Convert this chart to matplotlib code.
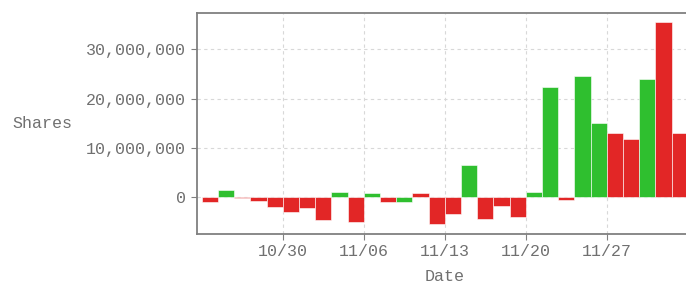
import matplotlib.pyplot as plt
import matplotlib.ticker as mticker
import numpy as np

dates = ["10/23", "10/24", "10/25", "10/26", "10/27",
         "10/30", "10/31", "11/01", "11/02", "11/03",
         "11/06", "11/07", "11/08", "11/09", "11/10",
         "11/13", "11/14", "11/15", "11/16", "11/17",
         "11/20", "11/21", "11/22", "11/23", "11/24",
         "11/27", "11/28", "11/29", "11/30", "12/01"]
shares = [-1.0, 1.4, -0.15, -0.7, -2.0,
          -3.1, -2.3, -4.7, 1.0, -5.1,
          0.9, -1.1, -1.1, 0.9, -5.5,
          -3.5, 6.6, -4.5, -1.8, -4.0,
          1.0, 22.4, -0.6, 24.7, 15.1,
          13.1, 11.8, 23.9, 35.6, 13.1]  # millions
up = [0, 1, 0, 0, 0,
      0, 0, 0, 1, 0,
      1, 0, 1, 0, 0,
      0, 1, 0, 0, 0,
      1, 1, 0, 1, 1,
      0, 0, 1, 0, 0]

shares = np.array(shares) * 1e6
x = np.arange(len(dates))
colors = ["#2fbf2f" if u else "#e22626" for u in up]

plt.rcParams['font.family'] = ['Liberation Mono', 'DejaVu Sans Mono']

fig = plt.figure(figsize=(6.86, 2.85), dpi=100)
ax = fig.add_axes([196.7 / 686, 51 / 285, 496 / 686, 221 / 285])

ax.bar(x, shares, width=1.0, align='edge', color=colors,
       edgecolor="#ffffff", linewidth=0.4, zorder=3)

ax.set_xlim(-0.31, 30.3)
ax.set_ylim(-7.5e6, 37.4e6)

ticks = x[5::5]
ax.set_xticks(ticks)
ax.set_xticklabels([dates[i] for i in ticks])
ax.set_yticks([0, 10e6, 20e6, 30e6])
ax.yaxis.set_major_formatter(mticker.FuncFormatter(lambda v, p: f"{int(v):,}"))

ax.grid(True, color="#d8d8d8", linestyle=(0, (3, 3)), linewidth=0.8, zorder=0)
for s in ax.spines.values():
    s.set_color("#808080")
    s.set_linewidth(1.3)
ax.tick_params(colors="#808080", labelcolor="#707070", labelsize=12, length=4)

ax.set_ylabel("Shares", rotation=0, fontsize=12, color="#707070", va='center', ha='center')
ax.yaxis.set_label_coords(-0.312, 0.502)
ax.set_xlabel("Date", fontsize=12, color="#707070", labelpad=7)

fig.savefig("out.png", dpi=100)
